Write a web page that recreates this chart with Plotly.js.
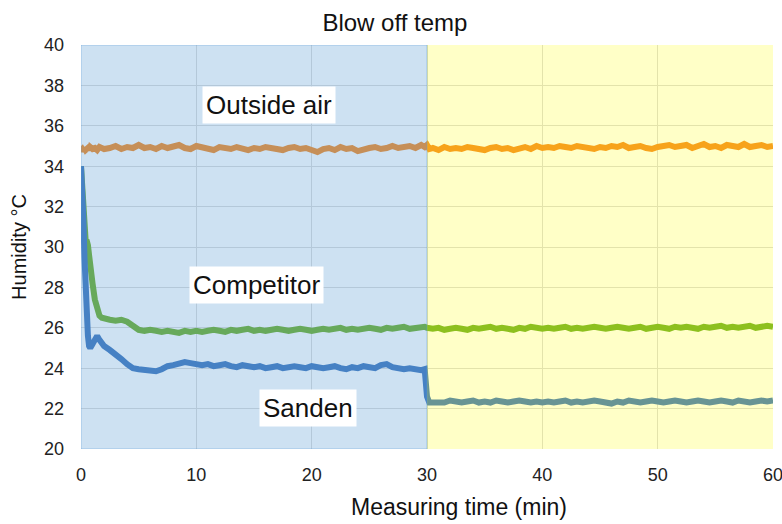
<!DOCTYPE html>
<html>
<head>
<meta charset="utf-8">
<script src="https://cdn.plot.ly/plotly-3.0.1.min.js"></script>
<style>html,body{margin:0;padding:0;background:#fff;}#chart{width:782px;height:524px;}</style>
</head>
<body>
<div id="chart"></div>
<script>
// Measuring time (min)
var timeMin = [
  0,0.1,0.2,0.3,0.4,0.5,0.6,0.7,0.8,1,1.2,1.4,1.6,1.8,2,
  2.5,3,3.5,4,4.5,5,5.5,6,6.5,7,7.5,8,8.5,9,9.5,10,
  10.5,11,11.5,12,12.5,13,13.5,14,14.5,15,15.5,16,16.5,17,17.5,18,18.5,19,19.5,20,
  20.5,21,21.5,22,22.5,23,23.5,24,24.5,25,25.5,26,26.5,27,27.5,28,28.5,29,29.5,
  29.8,30,30.2,
  30.5,31,31.5,32,32.5,33,33.5,34,34.5,35,35.5,36,36.5,37,37.5,38,38.5,39,39.5,40,
  40.5,41,41.5,42,42.5,43,43.5,44,44.5,45,45.5,46,46.5,47,47.5,48,48.5,49,49.5,50,
  50.5,51,51.5,52,52.5,53,53.5,54,54.5,55,55.5,56,56.5,57,57.5,58,58.5,59,59.5,60
];
var outsideAir = [
  34.8,34.85,34.75,34.9,34.8,34.85,34.9,34.8,34.95,34.85,34.9,34.8,34.95,34.9,34.85,
  34.9,35.0,34.85,34.95,34.9,35.05,34.9,34.95,34.85,35.0,34.9,34.95,35.05,34.9,34.85,35.0,
  34.95,34.9,34.8,34.95,34.9,34.85,34.95,34.9,34.8,34.9,34.85,34.95,34.9,34.85,34.8,34.9,34.95,34.85,34.9,34.8,
  34.7,34.85,34.9,34.8,34.95,34.85,34.9,34.75,34.85,34.9,34.95,34.85,34.9,35.0,34.9,34.95,35.0,34.9,35.05,
  34.95,35.05,34.85,
  34.9,34.8,34.95,34.85,34.9,34.85,34.95,34.9,34.85,34.8,34.9,34.95,34.85,34.9,34.8,34.9,34.95,34.85,35.0,34.9,
  34.95,34.9,35.0,34.95,34.9,35.0,34.95,34.9,34.85,34.95,34.9,35.0,34.95,35.05,34.9,34.95,35.0,34.9,34.85,34.95,
  35.0,35.05,34.95,35.0,35.05,34.9,35.0,35.1,34.95,35.0,34.9,35.05,35.0,34.95,35.1,34.95,35.0,35.05,34.95,35.0
];
var competitor = [
  34.0,33.0,31.6,30.6,30.35,30.3,30.1,29.6,29.0,28.2,27.4,26.9,26.6,26.5,26.45,
  26.4,26.35,26.4,26.3,26.1,25.9,25.85,25.9,25.85,25.8,25.85,25.8,25.75,25.85,25.8,25.85,
  25.8,25.85,25.9,25.85,25.8,25.9,25.85,25.9,25.95,25.85,25.9,25.85,25.9,25.95,25.9,25.85,25.9,25.95,25.9,25.85,
  25.9,25.95,25.9,25.95,26.0,25.9,25.95,25.9,25.95,26.0,25.95,25.9,26.0,25.95,26.0,26.05,25.95,26.0,26.05,
  26.05,26.0,25.95,
  25.95,26.0,25.9,25.95,26.0,25.95,25.9,26.0,25.95,26.0,26.05,25.95,26.0,25.95,25.9,26.0,25.95,26.05,26.0,25.95,
  26.0,25.95,26.0,26.05,25.95,26.0,25.95,26.0,26.05,26.0,25.95,26.0,26.05,26.0,25.95,26.0,26.05,25.95,26.0,26.05,
  26.0,25.95,26.05,26.0,26.05,26.0,25.95,26.05,26.0,26.05,26.1,26.0,26.05,26.0,26.05,26.1,26.0,26.05,26.1,26.05
];
var sanden = [
  34.0,33.2,31.5,29.5,27.8,26.5,25.6,25.1,25.0,25.2,25.5,25.6,25.4,25.2,25.1,
  24.9,24.7,24.45,24.2,24.0,23.95,23.9,23.9,23.85,23.95,24.1,24.15,24.2,24.3,24.25,24.2,
  24.15,24.2,24.1,24.15,24.2,24.1,24.05,24.15,24.1,24.05,24.1,24.0,24.05,24.1,24.0,24.05,24.1,24.05,24.0,24.1,
  24.05,24.0,24.05,24.1,24.0,23.95,24.05,24.0,24.1,24.05,24.0,24.15,24.2,24.05,24.0,23.95,24.0,23.95,23.9,
  23.95,22.6,22.3,
  22.3,22.35,22.3,22.4,22.35,22.3,22.35,22.4,22.3,22.35,22.3,22.4,22.35,22.3,22.35,22.4,22.35,22.3,22.35,22.3,
  22.35,22.3,22.35,22.4,22.3,22.35,22.3,22.35,22.4,22.35,22.3,22.25,22.35,22.3,22.4,22.35,22.3,22.35,22.4,22.35,
  22.3,22.35,22.4,22.35,22.3,22.35,22.4,22.35,22.3,22.35,22.4,22.35,22.3,22.4,22.35,22.3,22.35,22.4,22.35,22.4
];
var seriesNames = ["Outside air", "Competitor", "Sanden"];
var xTicks = [0,10,20,30,40,50,60];
var yTicks = [20,22,24,26,28,30,32,34,36,38,40];

var FONT = "Liberation Sans, Arial, Helvetica, sans-serif";
function trace(y, color, name) {
  return {x: timeMin, y: y, type: "scatter", mode: "lines", name: name,
          line: {color: color, width: 6, shape: "linear"}, hoverinfo: "skip"};
}
var data = [
  trace(competitor, "#6EAF28", seriesNames[1]),
  trace(outsideAir, "#F58A23", seriesNames[0]),
  trace(sanden, "#3E76BE", seriesNames[2])
];
var labelStyle = {showarrow: false, bgcolor: "#ffffff", font: {family: FONT, size: 26, color: "#111"},
                  xref: "x", yref: "y", borderpad: 3};
var layout = {
  width: 782, height: 524,
  margin: {l: 81, r: 9, t: 45, b: 75},
  paper_bgcolor: "#ffffff", plot_bgcolor: "#ffffff",
  showlegend: false,
  font: {family: FONT, color: "#222"},
  title: {text: "Blow off temp", font: {family: FONT, size: 24, color: "#111"}, x: 0.505, xanchor: "center", y: 0.957, yanchor: "middle"},
  xaxis: {range: [0, 60], tickvals: xTicks, ticktext: xTicks.map(String), showgrid: true, gridcolor: "#dcdcdc",
          zeroline: false, showline: false, ticks: "", ticklabelstandoff: 13, ticklabeloverflow: "allow",
          tickfont: {family: FONT, size: 18, color: "#222"}},
  yaxis: {range: [20, 40], tickvals: yTicks, ticktext: yTicks.map(String), showgrid: true, gridcolor: "#dcdcdc",
          zeroline: false, showline: false, ticks: "", ticklabelstandoff: 16,
          tickfont: {family: FONT, size: 18, color: "#222"},
          title: {text: "Humidity °C", font: {family: FONT, size: 20, color: "#111"}, standoff: 11}},
  shapes: [
    {type: "rect", xref: "x", yref: "y", x0: 0, x1: 30, y0: 20, y1: 40, layer: "above",
     fillcolor: "rgba(91,155,213,0.30)", line: {width: 1, color: "rgba(91,155,213,0.45)"}},
    {type: "rect", xref: "x", yref: "y", x0: 30, x1: 60, y0: 20, y1: 40, layer: "above",
     fillcolor: "rgba(255,255,0,0.22)", line: {width: 0}}
  ],
  annotations: [
    Object.assign({x: 16.3, y: 37.05, text: seriesNames[0]}, labelStyle),
    Object.assign({x: 15.2, y: 28.1, text: seriesNames[1]}, labelStyle),
    Object.assign({x: 19.7, y: 22.05, text: seriesNames[2]}, labelStyle),
    {x: 32.8, xref: "x", y: -0.143, yref: "paper", xanchor: "center", yanchor: "middle", showarrow: false,
     text: "Measuring time (min)", font: {family: FONT, size: 23, color: "#111"}}
  ]
};
Plotly.newPlot("chart", data, layout, {displayModeBar: false, staticPlot: true});
</script>
</body>
</html>
